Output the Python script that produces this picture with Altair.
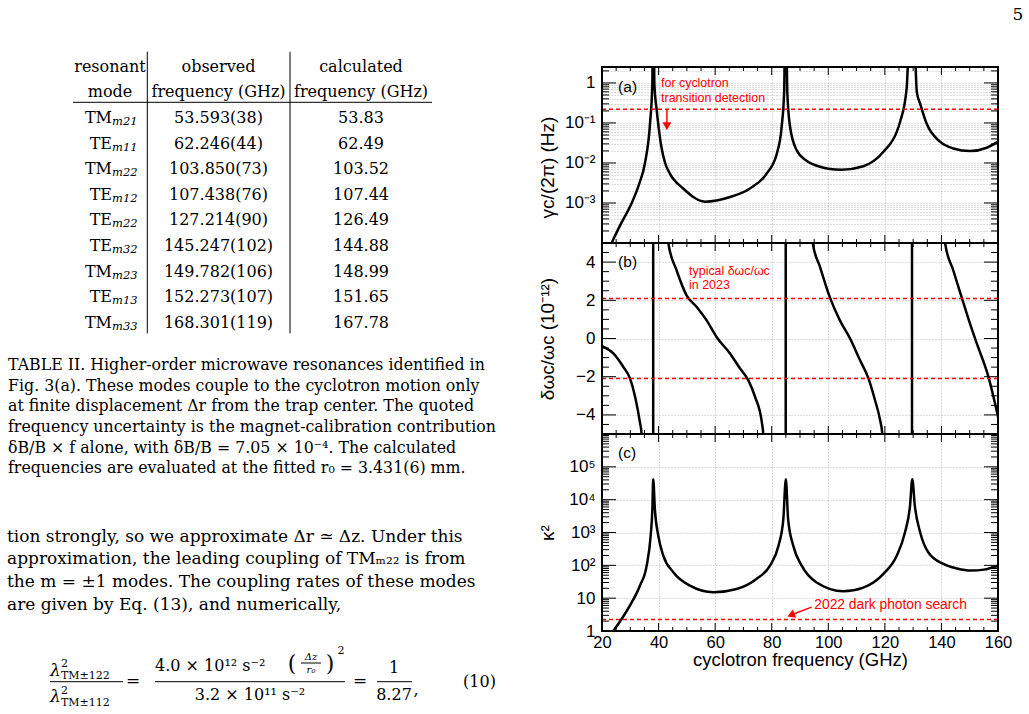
import altair as alt
import pandas as pd

SANS = "Liberation Sans"
SERIF = "DejaVu Serif"
GRID = "#b8b8b8"
RED = "#ff0000"

# ---------------- Table II values ----------------
header_top = ["resonant", "observed", "calculated"]
header_bottom = ["mode", "frequency (GHz)", "frequency (GHz)"]
mode_family = ["TM", "TE", "TM", "TE", "TE", "TE", "TM", "TE", "TM"]
mode_index = ["m21", "m11", "m22", "m12", "m22", "m32", "m23", "m13", "m33"]
observed = ["53.593(38)", "62.246(44)", "103.850(73)", "107.438(76)", "127.214(90)",
            "145.247(102)", "149.782(106)", "152.273(107)", "168.301(119)"]
calculated = ["53.83", "62.49", "103.52", "107.44", "126.49", "144.88", "148.99", "151.65", "167.78"]

caption_lines = [
    "TABLE II. Higher-order microwave resonances identified in",
    "Fig. 3(a). These modes couple to the cyclotron motion only",
    "at finite displacement Δr from the trap center. The quoted",
    "frequency uncertainty is the magnet-calibration contribution",
    "δB/B × f alone, with δB/B = 7.05 × 10⁻⁴. The calculated",
    "frequencies are evaluated at the fitted r₀ = 3.431(6) mm.",
]
paragraph_lines = [
    "tion strongly, so we approximate Δr ≃ Δz. Under this",
    "approximation, the leading coupling of TMₘ₂₂ is from",
    "the m = ±1 modes. The coupling rates of these modes",
    "are given by Eq. (13), and numerically,",
]

# ---------------- Figure values ----------------
freq_a = [23.4, 26.4, 30.5, 33.0, 35.2, 37.0, 37.8, 38.1, 38.5, 39.3, 40.0, 41.0, 42.3, 44.0,
          48.7, 56.4, 65.3, 72.3, 78.2, 81.8, 83.5, 84.4, 84.95, 85.5, 86.5, 88.8, 92.4,
          96.0, 100.0, 104.7, 112.4, 119.5, 124.2, 125.4, 127.7, 129.6, 131.3, 132.5, 134.8,
          139.5, 144.2, 150.1, 156.0, 160.0]
gamma_a = [1.0e-4, 2.75e-4, 1.0e-3, 2.8e-3, 1.0e-2, 1.0e-1, 1.0, 1000, 1.0, 0.22, 0.08, 0.025,
           1.0e-2, 5.4e-3, 2.3e-3, 1.08e-3, 1.41e-3, 2.3e-3, 5.4e-3, 1.7e-2, 7.9e-2, 0.6,
           1000, 0.6, 7.9e-2, 2.1e-2, 1.12e-2, 8.5e-3, 7.2e-3, 6.8e-3, 8.3e-3, 1.9e-2,
           6.0e-2, 0.107, 0.72, 1000, 0.6, 0.3, 0.095, 3.4e-2, 2.3e-2, 1.98e-2, 2.4e-2, 3.4e-2]

freq_b = [20.0, 24.0, 27.5, 29.9, 31.7, 33.4, 34.0, 38.05, 38.15,
          43.45, 46.4, 49.9, 53.5, 57.0, 60.5, 65.25, 68.8, 71.7, 74.1, 76.5, 77.0, 84.9, 85.0,
          94.5, 97.1, 100.6, 104.1, 107.7, 111.2, 114.2, 116.5, 118.3, 119.1, 129.55, 129.65,
          141.3, 144.2, 147.2, 150.1, 152.5, 156.6, 160.0]
shift_b = [-0.40, -0.78, -1.48, -2.09, -3.05, -4.38, -5.0, -1000, 1000,
           5.0, 3.56, 2.26, 1.65, 0.95, 0.08, -0.78, -1.57, -2.18, -3.05, -4.38, -5.0, -1000, 1000,
           5.0, 3.74, 2.14, 0.95, 0.0, -1.13, -2.09, -3.22, -4.26, -5.0, -1000, 1000,
           5.0, 3.56, 2.14, 0.78, -0.26, -2.0, -4.09]

freq_c = [24.0, 29.9, 33.4, 35.8, 37.2, 37.8, 38.1, 38.7, 39.9, 41.7, 45.2, 51.1, 59.4, 67.6,
          74.7, 79.4, 82.4, 84.1, 85.0, 85.8, 87.6, 90.6, 95.9, 105.3, 112.4, 119.5, 124.2,
          127.1, 128.9, 129.7, 130.6, 132.5, 135.4, 140.7, 145.5, 150.5, 155.0, 160.0]
kappa2_c = [1.0, 6.0, 24, 98, 794, 5000, 42000, 5000, 794, 195, 62, 24, 15.1, 19,
            39, 98, 398, 2512, 42000, 2512, 398, 98, 30, 16.2, 21, 55, 195,
            1000, 6457, 42000, 6457, 1000, 245, 110, 80, 69, 74, 98]

ann_a = ["for cyclotron", "transition detection"]
ann_b = ["typical δωc/ωc", "in 2023"]
ann_c = ["2022 dark photon search"]

# ---------------- geometry / style ----------------
W = 396
H_TOP, HA, HB, HC = 67, 176, 191, 197
LEFT_W, LEFT_H = 602, 714

X_SCALE = alt.Scale(domain=[20, 160], nice=False, zero=False)
X_MAJOR = list(range(20, 161, 20))
X_MINOR = [v for v in range(20, 161, 5) if v % 20 != 0]


def one():
    return pd.DataFrame({"k": [0]})


def x_axis(show):
    common = dict(values=X_MAJOR, grid=True, gridDash=[1, 2], gridColor=GRID, gridWidth=1,
                  ticks=False, tickSize=0, domain=False)
    if show:
        return alt.Axis(labels=True, labelFont=SANS, labelFontSize=16.5, labelColor="black",
                        labelPadding=16, labelBaseline="alphabetic", labelFlush=False,
                        title="cyclotron frequency (GHz)", titleFont=SANS, titleFontSize=18.5,
                        titleFontWeight="normal", titleColor="black",
                        titleBaseline="alphabetic", titleY=34.5, **common)
    return alt.Axis(labels=False, title=None, **common)


def x_enc(show):
    return alt.X("x:Q", scale=X_SCALE, axis=x_axis(show))


def y_axis(values, title, title_y, label_expr=None):
    kw = dict(values=values, grid=True, gridDash=[1, 2], gridColor=GRID, gridWidth=1,
              ticks=False, tickSize=0, domain=False, labelOverlap=False, labelPadding=7,
              labelFont=SANS, labelFontSize=17, labelColor="black", labelBaseline="middle",
              title=title, titleFont=SANS, titleFontSize=19, titleFontWeight="normal",
              titleColor="black", titleAngle=270, titleX=-55, titleY=title_y,
              titleAlign="center", titleBaseline="middle")
    if label_expr:
        kw["labelExpr"] = label_expr
    return alt.Axis(**kw)


def ticks_x(h, show):
    out = []
    for vals, L in ((X_MAJOR, 8), (X_MINOR, 4)):
        df = pd.DataFrame({"x": vals})
        out.append(alt.Chart(df).mark_rule(color="black", strokeWidth=1).encode(
            x=x_enc(show), y=alt.value(h), y2=alt.value(h - L)))
        out.append(alt.Chart(df).mark_rule(color="black", strokeWidth=1).encode(
            x=x_enc(show), y=alt.value(0), y2=alt.value(L)))
    return out


def ticks_y(major, minor, yenc):
    out = []
    for vals, L in ((major, 14), (minor, 7)):
        df = pd.DataFrame({"y": vals})
        out.append(alt.Chart(df).mark_rule(color="black", strokeWidth=1).encode(
            y=yenc, x=alt.value(0), x2=alt.value(L)))
        out.append(alt.Chart(df).mark_rule(color="black", strokeWidth=1).encode(
            y=yenc, x=alt.value(W - L), x2=alt.value(W)))
    return out


def frame(h):
    return alt.Chart(one()).mark_rect(filled=False, stroke="black", strokeWidth=2).encode(
        x=alt.value(0), x2=alt.value(W), y=alt.value(0), y2=alt.value(h))


def curve(freqs, vals, yenc, show):
    return alt.Chart(pd.DataFrame({"x": freqs, "y": vals})).mark_line(
        color="black", strokeWidth=2.5, clip=True, interpolate="monotone").encode(x=x_enc(show), y=yenc)


def label_text(df, yenc, show, size, color):
    return alt.Chart(df).mark_text(font=SANS, fontSize=size, color=color, align="left",
                                   baseline="middle").encode(x=x_enc(show), y=yenc, text="t:N")


def red_line(vals, yenc):
    return alt.Chart(pd.DataFrame({"y": vals})).mark_rule(
        color=RED, strokeDash=[4, 3], strokeWidth=1.5).encode(y=yenc)


# ---------------- panel (a) ----------------
ya_major = [1e-4, 1e-3, 1e-2, 1e-1, 1.0]
ya_minor = [round(k * 10.0 ** e, 9) for e in range(-4, 1) for k in range(2, 10) if k * 10.0 ** e <= 2.5]
ya = alt.Y("y:Q", scale=alt.Scale(type="log", domain=[1e-4, 2.5], nice=False),
           axis=y_axis(ya_major + ya_minor, "γc/(2π) (Hz)", 100,
                       "datum.value == 1 ? '1' : datum.value == 0.1 ? '10⁻¹' : datum.value == 0.01 ? '10⁻²' : datum.value == 0.001 ? '10⁻³' : ''"))

pa_layers = [
    curve(freq_a, gamma_a, ya, False),
    red_line([0.22], ya),
    label_text(pd.DataFrame({"x": [25.7], "y": [0.79], "t": ["(a)"]}), ya, False, 15.5, "black"),
    label_text(pd.DataFrame({"x": [40.9, 40.9], "y": [0.97, 0.43], "t": ann_a}), ya, False, 12.4, RED),
    alt.Chart(pd.DataFrame({"x": [42.95], "y": [0.21], "y2": [0.09]})).mark_rule(color=RED, strokeWidth=1.5).encode(
        x=x_enc(False), y=ya, y2="y2:Q"),
    alt.Chart(pd.DataFrame({"x": [42.95], "y": [0.083]})).mark_point(
        shape="triangle-down", filled=True, color=RED, size=80, opacity=1).encode(x=x_enc(False), y=ya),
] + ticks_x(HA, False) + ticks_y(ya_major, ya_minor, ya) + [frame(HA)]
panel_a = alt.layer(*pa_layers).properties(width=W, height=HA)

# ---------------- panel (b) ----------------
yb_major = [-4, -2, 0, 2, 4]
yb_minor = [k / 2 for k in range(-9, 10) if k % 4 != 0]
yb = alt.Y("y:Q", scale=alt.Scale(domain=[-5, 5], nice=False, zero=False),
           axis=y_axis(yb_major, "δωc/ωc (10⁻¹²)", HB / 2))

pb_layers = [
    curve(freq_b, shift_b, yb, False),
    red_line([2.1, -2.1], yb),
    label_text(pd.DataFrame({"x": [25.7], "y": [4.0], "t": ["(b)"]}), yb, False, 15.5, "black"),
    label_text(pd.DataFrame({"x": [50.8, 50.8], "y": [3.53, 2.78], "t": ann_b}), yb, False, 12.4, RED),
] + ticks_x(HB, False) + ticks_y(yb_major, yb_minor, yb) + [frame(HB)]
panel_b = alt.layer(*pb_layers).properties(width=W, height=HB)

# ---------------- panel (c) ----------------
yc_major = [1, 10, 100, 1000, 10000, 100000, 1000000]
yc_minor = [k * 10 ** e for e in range(0, 6) for k in range(2, 10)]
yc = alt.Y("y:Q", scale=alt.Scale(type="log", domain=[1, 1e6], nice=False),
           axis=y_axis(yc_major, "κ²", HC / 2,
                       "datum.value == 1 ? '1' : datum.value == 10 ? '10' : datum.value == 100 ? '10²' : datum.value == 1000 ? '10³' : datum.value == 10000 ? '10⁴' : datum.value == 100000 ? '10⁵' : ''"))

pc_layers = [
    curve(freq_c, kappa2_c, yc, True),
    red_line([2.25], yc),
    label_text(pd.DataFrame({"x": [25.7], "y": [2.65e5], "t": ["(c)"]}), yc, True, 15.5, "black"),
    label_text(pd.DataFrame({"x": [95.05], "y": [6.0], "t": ann_c}), yc, True, 13.8, RED),
    alt.Chart(pd.DataFrame({"x": [94.1], "x2": [87.5], "y": [5.33], "y2": [3.25]})).mark_rule(
        color=RED, strokeWidth=1.5).encode(x=x_enc(True), x2="x2:Q", y=yc, y2="y2:Q"),
    alt.Chart(pd.DataFrame({"x": [86.8], "y": [3.05]})).mark_point(
        shape="triangle-up", filled=True, color=RED, size=80, opacity=1, angle=248).encode(x=x_enc(True), y=yc),
] + ticks_x(HC, True) + ticks_y(yc_major, yc_minor, yc) + [frame(HC)]
panel_c = alt.layer(*pc_layers).properties(width=W, height=HC)

# ---------------- page number / spacer ----------------
spacer = alt.Chart(one()).mark_text(text="5", font=SERIF, fontSize=17, align="center",
                                    baseline="middle", color="black").encode(
    x=alt.value(416), y=alt.value(15)).properties(width=W, height=H_TOP)

right = alt.vconcat(spacer, panel_a, panel_b, panel_c, spacing=0, bounds="flush")

# ---------------- left column: table, caption, text, equation ----------------
left_layers = []
row_y = alt.Scale(domain=[0, 10], range=[66.7, 322.7], nice=False, zero=False)
row_enc = alt.Y("row:Q", scale=row_y, axis=None)

for i, cx in enumerate([110, 218.5, 361]):
    texts = [header_top[i], header_bottom[i]] + ([] if i == 0 else [observed, calculated][i - 1])
    df = pd.DataFrame({"row": list(range(len(texts))), "text": texts})
    left_layers.append(alt.Chart(df).mark_text(font=SERIF, fontSize=16, align="center",
                                               baseline="middle", color="black").encode(
        x=alt.value(cx), y=row_enc, text="text:N"))

mode_df = pd.DataFrame({"row": list(range(2, 2 + len(mode_family))), "fam": mode_family, "sub": mode_index})
left_layers.append(alt.Chart(mode_df).mark_text(font=SERIF, fontSize=16, align="right",
                                                baseline="middle", color="black").encode(
    x=alt.value(112), y=row_enc, text="fam:N"))
left_layers.append(alt.Chart(mode_df).mark_text(font=SERIF, fontSize=11.5, align="left", fontStyle="italic",
                                                baseline="middle", color="black", dy=4).encode(
    x=alt.value(112), y=row_enc, text="sub:N"))

left_layers.append(alt.Chart(one()).mark_rule(color="black", strokeWidth=1).encode(
    x=alt.value(73), x2=alt.value(432), y=alt.value(102.3)))
for vx in (147.3, 290):
    left_layers.append(alt.Chart(one()).mark_rule(color="black", strokeWidth=1).encode(
        x=alt.value(vx), y=alt.value(51.7), y2=alt.value(333.3)))

cap_df = pd.DataFrame({"line": list(range(len(caption_lines))), "text": caption_lines})
left_layers.append(alt.Chart(cap_df).mark_text(font=SERIF, fontSize=15.8, align="left",
                                               baseline="middle", color="black").encode(
    x=alt.value(8), y=alt.Y("line:Q", scale=alt.Scale(domain=[0, 5], range=[365, 468.3], nice=False, zero=False), axis=None),
    text="text:N"))

par_df = pd.DataFrame({"line": list(range(len(paragraph_lines))), "text": paragraph_lines})
left_layers.append(alt.Chart(par_df).mark_text(font=SERIF, fontSize=17, align="left",
                                               baseline="middle", color="black").encode(
    x=alt.value(7), y=alt.Y("line:Q", scale=alt.Scale(domain=[0, 3], range=[536.7, 605], nice=False, zero=False), axis=None),
    text="text:N"))


def eq_text(txt, x, y, size=16, align="center", style="normal"):
    return alt.Chart(one()).mark_text(text=txt, font=SERIF, fontSize=size, align=align,
                                      baseline="middle", color="black", fontStyle=style).encode(
        x=alt.value(x), y=alt.value(y))


def eq_bar(x1, x2, y):
    return alt.Chart(one()).mark_rule(color="black", strokeWidth=1).encode(
        x=alt.value(x1), x2=alt.value(x2), y=alt.value(y))


left_layers += [
    eq_text("λ", 50, 671, 17, "left", "italic"),
    eq_text("2", 61, 664, 11, "left"),
    eq_text("TM±122", 61, 676, 11, "left"),
    eq_bar(50, 123, 681.7),
    eq_text("λ", 50, 697, 17, "left", "italic"),
    eq_text("2", 61, 691, 11, "left"),
    eq_text("TM±112", 61, 703, 11, "left"),
    eq_text("=", 133, 681, 17),
    eq_text("4.0 × 10¹² s⁻²", 155, 666, 16, "left"),
    eq_text("(", 292, 664, 22),
    eq_text("Δz", 311, 657, 10, "center", "italic"),
    eq_bar(301, 321, 663),
    eq_text("r₀", 311, 670, 10, "center", "italic"),
    eq_text(")", 330, 664, 22),
    eq_text("2", 341, 651, 11),
    eq_bar(155, 345, 681.7),
    eq_text("3.2 × 10¹¹ s⁻²", 250, 695, 16),
    eq_text("=", 360, 681, 17),
    eq_text("1", 394, 668, 16),
    eq_bar(377, 412, 681.7),
    eq_text("8.27", 394, 695, 16),
    eq_text(",", 416, 690, 16),
    eq_text("(10)", 479.5, 681.7, 16),
]

left = alt.layer(*left_layers).resolve_scale(y="independent").properties(width=LEFT_W, height=LEFT_H)

chart = alt.hconcat(left, right, spacing=0, bounds="flush").properties(
    padding=0, background="white").configure_view(strokeWidth=0)

chart.save("out.html", embed_options={"renderer": "svg", "actions": False})
